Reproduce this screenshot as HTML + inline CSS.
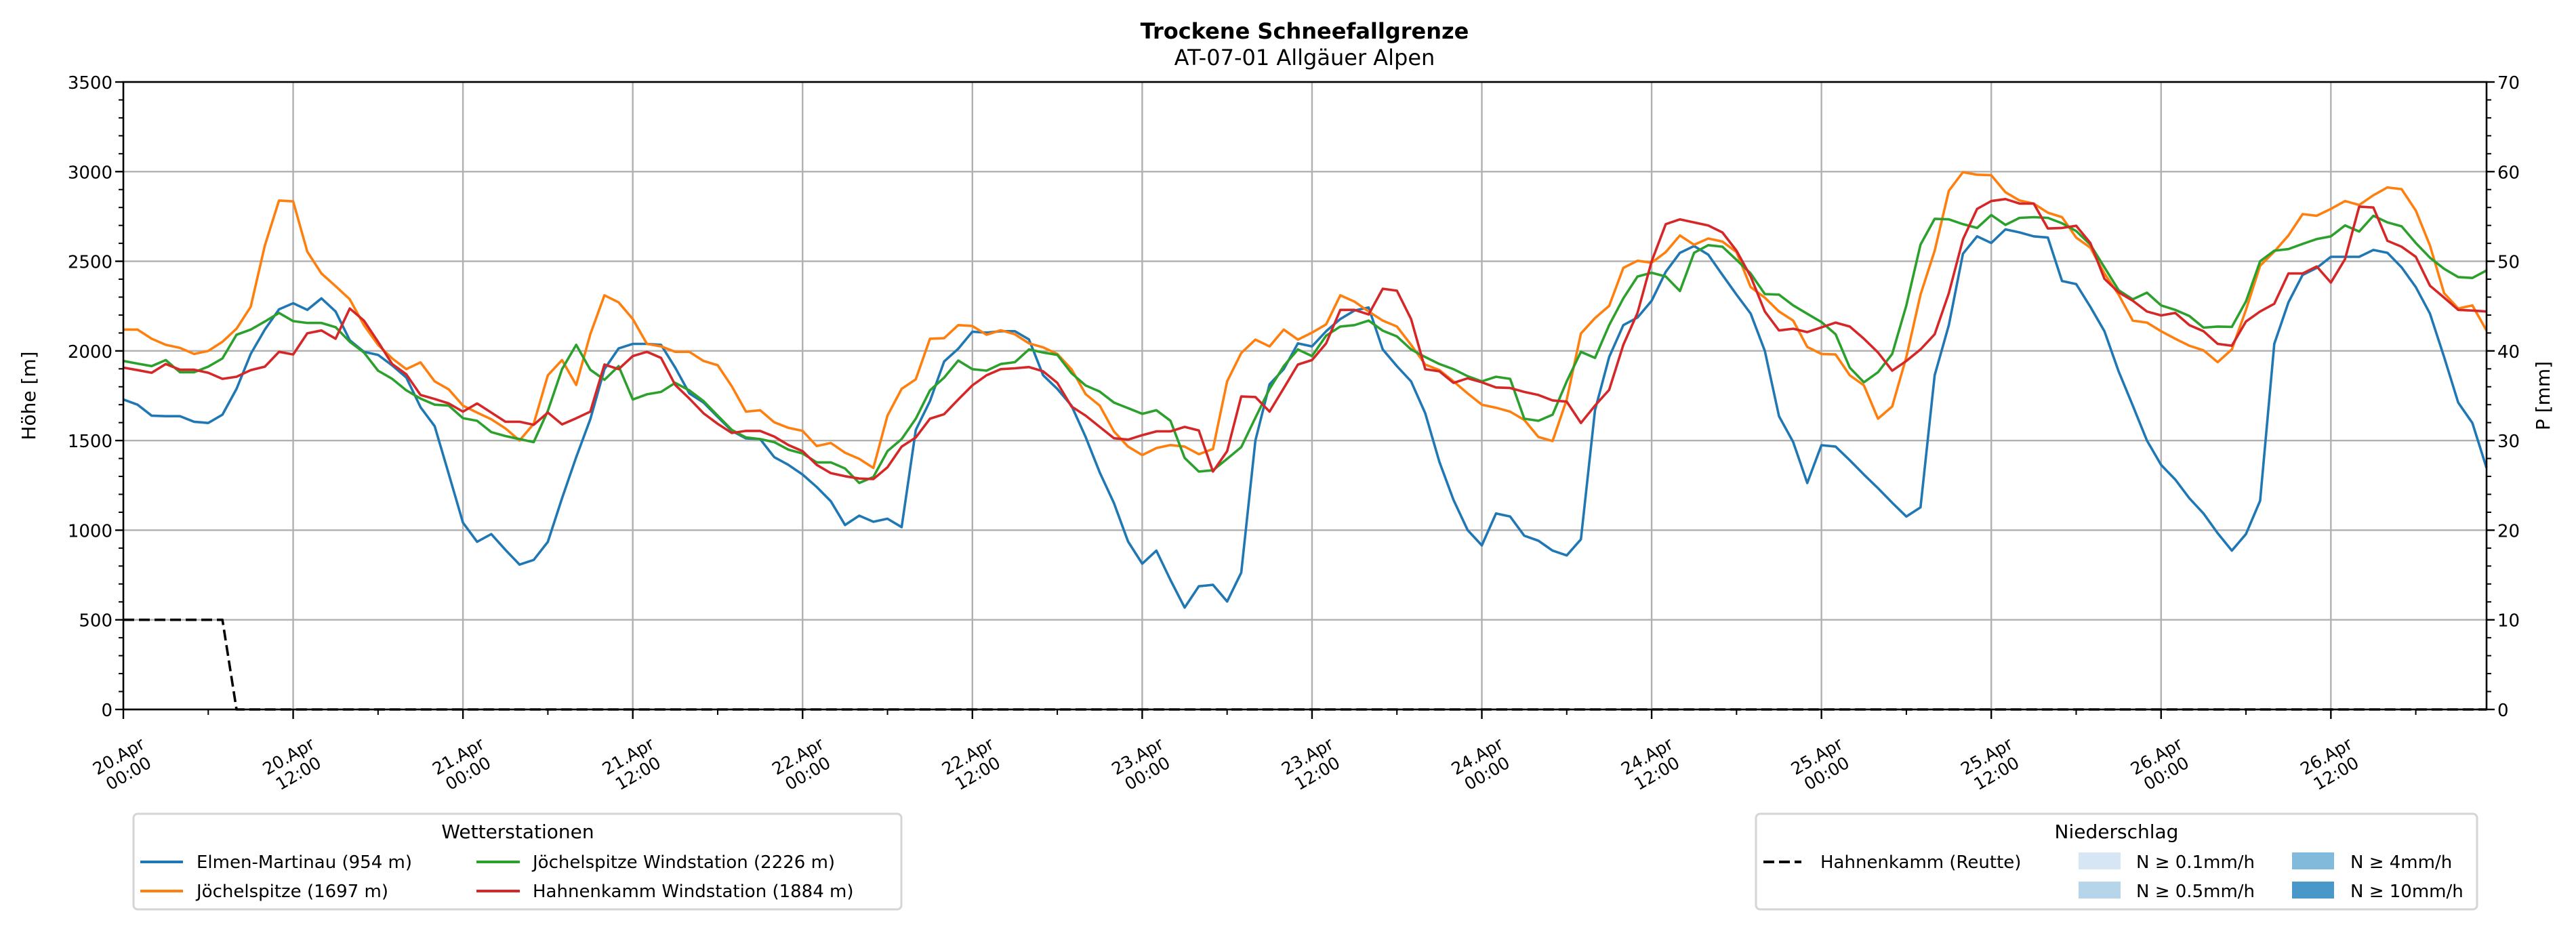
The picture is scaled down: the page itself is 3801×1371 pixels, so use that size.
<!DOCTYPE html>
<html><head><meta charset="utf-8"><style>
html,body{margin:0;padding:0;background:#fff;}
svg{display:block;font-family:"DejaVu Sans","Liberation Sans",sans-serif;}
</style></head><body>
<svg id="chart" width="3801" height="1371" viewBox="0 0 3801 1371" xmlns="http://www.w3.org/2000/svg">
<rect width="3801" height="1371" fill="#fff"/>
<text x="1925" y="57" font-size="32" font-weight="bold" text-anchor="middle">Trockene Schneefallgrenze</text>
<text x="1925" y="96" font-size="32" text-anchor="middle">AT-07-01 Allgäuer Alpen</text>
<g id="grid"></g>
<g id="series"></g>
<g id="axes"></g>
<text transform="translate(52,584) rotate(-90)" font-size="28" text-anchor="middle">Höhe [m]</text>
<text transform="translate(3762,584) rotate(-90)" font-size="28" text-anchor="middle">P [mm]</text>
<g>
<rect x="197" y="1201" width="1133" height="141" rx="6" fill="#fff" stroke="#d5d5d5" stroke-width="3"/>
<text x="764" y="1237" font-size="28" text-anchor="middle">Wetterstationen</text>
<g><line x1="207" y1="1272" x2="270" y2="1272" stroke="#1f77b4" stroke-width="4"/><text x="290" y="1281" font-size="26">Elmen-Martinau (954 m)</text></g>
<g><line x1="207" y1="1315" x2="270" y2="1315" stroke="#ff7f0e" stroke-width="4"/><text x="290" y="1324" font-size="26">Jöchelspitze (1697 m)</text></g>
<g><line x1="703" y1="1272" x2="767" y2="1272" stroke="#2ca02c" stroke-width="4"/><text x="786" y="1281" font-size="26">Jöchelspitze Windstation (2226 m)</text></g>
<g><line x1="703" y1="1315" x2="767" y2="1315" stroke="#d62728" stroke-width="4"/><text x="786" y="1324" font-size="26">Hahnenkamm Windstation (1884 m)</text></g>
</g>
<g>
<rect x="2591" y="1201" width="1064" height="141" rx="6" fill="#fff" stroke="#d5d5d5" stroke-width="3"/>
<text x="3123" y="1237" font-size="28" text-anchor="middle">Niederschlag</text>
<g><line x1="2602" y1="1272" x2="2658" y2="1272" stroke="#000" stroke-width="4" stroke-dasharray="16,7"/><text x="2686" y="1281" font-size="26">Hahnenkamm (Reutte)</text></g>
<g><rect x="3067" y="1258" width="62" height="25" fill="#d6e6f4"/><text x="3152" y="1281" font-size="26">N ≥ 0.1mm/h</text></g>
<g><rect x="3067" y="1301" width="62" height="25" fill="#b6d4ea"/><text x="3152" y="1324" font-size="26">N ≥ 0.5mm/h</text></g>
<g><rect x="3382" y="1258" width="62" height="25" fill="#82badb"/><text x="3468" y="1281" font-size="26">N ≥ 4mm/h</text></g>
<g><rect x="3382" y="1301" width="62" height="25" fill="#4a98c9"/><text x="3468" y="1324" font-size="26">N ≥ 10mm/h</text></g>
</g>
</svg>
<script>
const elmen = [1729,1700,1639,1636,1636,1605,1598,1644,1788,1983,2119,2232,2266,2229,2293,2220,2059,1995,1978,1919,1851,1686,1580,1313,1042,
935,978,890,808,834,935,1178,1407,1619,1898,2014,2039,2039,2034,1907,1763,1712,1632,1554,1512,1508,1407,1364,1310,
1241,1161,1029,1081,1047,1064,1017,1559,1720,1941,2012,2107,2102,2110,2110,2064,1864,1788,1695,1520,1322,1152,937,813,
886,722,568,687,695,602,763,1500,1814,1898,2042,2025,2110,2178,2225,2242,2008,1915,1830,1652,1381,1169,1000,915,
1093,1076,969,941,886,859,949,1669,1966,2144,2186,2280,2441,2547,2585,2537,2424,2314,2208,2000,1636,1492,1263,1474,
1466,1390,1310,1234,1153,1076,1127,1864,2144,2542,2639,2602,2678,2661,2639,2632,2390,2373,2246,2110,1886,1695,1500,1364,
1283,1178,1093,983,886,978,1164,2039,2271,2424,2463,2525,2525,2525,2563,2547,2466,2356,2208,1966,1712,1598,1347];
const joechel = [2119,2119,2068,2034,2017,1983,2000,2051,2124,2246,2588,2839,2834,2554,2432,2361,2288,2144,2034,1958,1898,1936,1830,1785,1695,
1656,1619,1568,1500,1593,1864,1949,1810,2093,2310,2271,2178,2039,2025,1995,1995,1944,1920,1802,1661,1669,1602,1571,1554,
1469,1486,1432,1398,1347,1639,1788,1842,2068,2071,2144,2139,2090,2115,2093,2042,2020,1983,1898,1759,1695,1551,1466,1419,
1458,1475,1466,1424,1453,1830,1988,2063,2025,2119,2063,2102,2148,2310,2275,2220,2169,2136,2034,1924,1893,1830,1763,1700,
1683,1661,1615,1520,1497,1729,2097,2183,2251,2463,2503,2492,2551,2644,2592,2627,2610,2551,2356,2297,2220,2169,2022,1983,
1980,1864,1808,1622,1690,1966,2314,2559,2893,2997,2983,2980,2885,2839,2822,2771,2746,2632,2576,2432,2314,2169,2158,2110,
2068,2029,2003,1937,2008,2229,2475,2554,2644,2763,2754,2792,2836,2814,2868,2912,2902,2783,2588,2322,2237,2254,2114];
const joechelWind = [1944,1929,1915,1949,1881,1881,1912,1958,2090,2119,2164,2212,2166,2156,2156,2132,2051,1991,1890,1844,1780,1734,1700,1695,1625,
1610,1547,1525,1508,1491,1666,1898,2034,1895,1839,1915,1729,1758,1771,1822,1780,1720,1639,1559,1517,1508,1491,1449,1428,
1378,1378,1344,1263,1297,1441,1508,1622,1780,1851,1946,1898,1890,1927,1937,2008,1991,1978,1876,1807,1773,1712,1681,1649,
1669,1610,1403,1327,1334,1398,1463,1627,1788,1915,2008,1971,2085,2136,2144,2169,2113,2081,2008,1966,1927,1898,1859,1830,
1856,1844,1622,1610,1644,1830,1995,1961,2144,2293,2415,2436,2415,2334,2547,2590,2581,2508,2432,2317,2314,2254,2207,2161,
2093,1907,1825,1881,1983,2254,2593,2737,2734,2707,2686,2758,2703,2742,2746,2742,2712,2669,2593,2466,2339,2288,2325,2254,
2229,2195,2130,2136,2134,2276,2500,2559,2568,2597,2624,2639,2700,2666,2754,2717,2695,2602,2520,2458,2412,2407,2449];
const hahnWind = [1907,1893,1878,1927,1895,1895,1878,1844,1856,1893,1912,1995,1980,2098,2114,2068,2237,2169,2051,1927,1869,1754,1732,1707,1661,
1707,1656,1605,1605,1588,1656,1590,1624,1661,1924,1898,1971,1995,1961,1810,1734,1652,1593,1542,1554,1554,1522,1475,1441,
1364,1318,1301,1288,1285,1351,1466,1517,1622,1647,1729,1808,1864,1898,1903,1910,1886,1822,1690,1639,1576,1513,1505,1530,
1551,1551,1576,1556,1327,1441,1746,1743,1661,1792,1924,1949,2042,2229,2229,2203,2347,2336,2178,1898,1886,1822,1847,1825,
1796,1793,1771,1754,1724,1717,1598,1695,1783,2034,2212,2500,2707,2734,2717,2700,2661,2559,2415,2220,2114,2124,2105,2131,
2158,2136,2068,1991,1890,1944,2008,2093,2322,2622,2792,2836,2847,2822,2822,2683,2686,2698,2602,2402,2327,2280,2220,2198,
2212,2144,2110,2039,2029,2164,2220,2263,2432,2432,2471,2381,2512,2805,2800,2614,2581,2525,2364,2297,2229,2225,2220];
const precipHahnenkamm = [10,10,10,10,10,10,10,10,0];
const yTicks = [0,500,1000,1500,2000,2500,3000,3500];
const y2Ticks = [0,10,20,30,40,50,60,70];
const xTickDays = ["20.Apr","20.Apr","21.Apr","21.Apr","22.Apr","22.Apr","23.Apr","23.Apr","24.Apr","24.Apr","25.Apr","25.Apr","26.Apr","26.Apr"];
const xTickTimes = ["00:00","12:00","00:00","12:00","00:00","12:00","00:00","12:00","00:00","12:00","00:00","12:00","00:00","12:00"];

const NS = "http://www.w3.org/2000/svg";
const L = 182, R = 3669, T = 121, B = 1047, HMAX = 167;
const xs = h => L + (R - L) * h / HMAX;
const ys = v => B - (B - T) * v / 3500;
const ys2 = v => B - (B - T) * v / 70;
function mk(tag, attrs, parent) { const e = document.createElementNS(NS, tag); for (const k in attrs) e.setAttribute(k, attrs[k]); parent.appendChild(e); return e; }
const grid = document.getElementById('grid'), series = document.getElementById('series'), axes = document.getElementById('axes');

yTicks.forEach(v => {
  const g = mk('line', {x1: L, x2: R, y1: ys(v), y2: ys(v), stroke: '#b0b0b0', 'stroke-width': 2.4}, grid);
  
  
  const t = mk('text', {x: L - 16, y: ys(v) + 10, 'font-size': 26, 'text-anchor': 'end'}, axes);
  t.textContent = v;
  
  
  mk('line', {x1: L - 12, x2: L, y1: ys(v), y2: ys(v), stroke: '#000', 'stroke-width': 2.4}, axes);
});
for (let v = 0; v <= 3500; v += 100) { if (v % 500) mk('line', {x1: L - 7, x2: L, y1: ys(v), y2: ys(v), stroke: '#000', 'stroke-width': 2}, axes); }
y2Ticks.forEach(v => {
  const t = mk('text', {x: R + 16, y: ys2(v) + 10, 'font-size': 26}, axes);
  t.textContent = v;
  
  
  mk('line', {x1: R, x2: R + 12, y1: ys2(v), y2: ys2(v), stroke: '#000', 'stroke-width': 2.4}, axes);
});
for (let v = 0; v <= 70; v += 2) { if (v % 10) mk('line', {x1: R, x2: R + 7, y1: ys2(v), y2: ys2(v), stroke: '#000', 'stroke-width': 2}, axes); }
xTickDays.forEach((d, i) => {
  const h = i * 12, x = xs(h);
  if (i > 0) {
    const g = mk('line', {x1: x, x2: x, y1: T, y2: B, stroke: '#b0b0b0', 'stroke-width': 2.4}, grid);
    
    
  }
  mk('line', {x1: x, x2: x, y1: B, y2: B + 14, stroke: '#000', 'stroke-width': 2.4}, axes);
  mk('line', {x1: xs(h + 6), x2: xs(h + 6), y1: B, y2: B + 8, stroke: '#000', 'stroke-width': 2}, axes);
  const t = mk('text', {transform: `translate(${x},1128) rotate(-30)`, 'font-size': 25, 'text-anchor': 'middle'}, axes);
  
  
  const a = mk('tspan', {x: 0, y: -5}, t); a.textContent = d;
  const b = mk('tspan', {x: 0, y: 24}, t); b.textContent = xTickTimes[i];
});
mk('line', {x1: L, x2: R, y1: B, y2: B, stroke: '#b0b0b0', 'stroke-width': 2.4}, grid);

function line(data, color, name, scale, dash) {
  const pts = data.map((v, i) => xs(i).toFixed(1) + ',' + scale(v).toFixed(1)).join(' ');
  const p = mk('polyline', {points: pts, fill: 'none', stroke: color, 'stroke-width': 3.6, 'stroke-linejoin': 'round'}, series);
  if (dash) p.setAttribute('stroke-dasharray', dash);
  
  
}
line(elmen, '#1f77b4', 'line-elmen-martinau', ys);
line(joechel, '#ff7f0e', 'line-joechelspitze', ys);
line(joechelWind, '#2ca02c', 'line-joechelspitze-windstation', ys);
line(hahnWind, '#d62728', 'line-hahnenkamm-windstation', ys);
const pre = precipHahnenkamm.concat(new Array(HMAX + 1 - precipHahnenkamm.length).fill(0));
line(pre, '#000', 'line-hahnenkamm-reutte-precip', ys2, '16,7');

mk('rect', {x: L, y: T, width: R - L, height: B - T, fill: 'none', stroke: '#000', 'stroke-width': 2.6}, axes);
</script>
</body></html>
